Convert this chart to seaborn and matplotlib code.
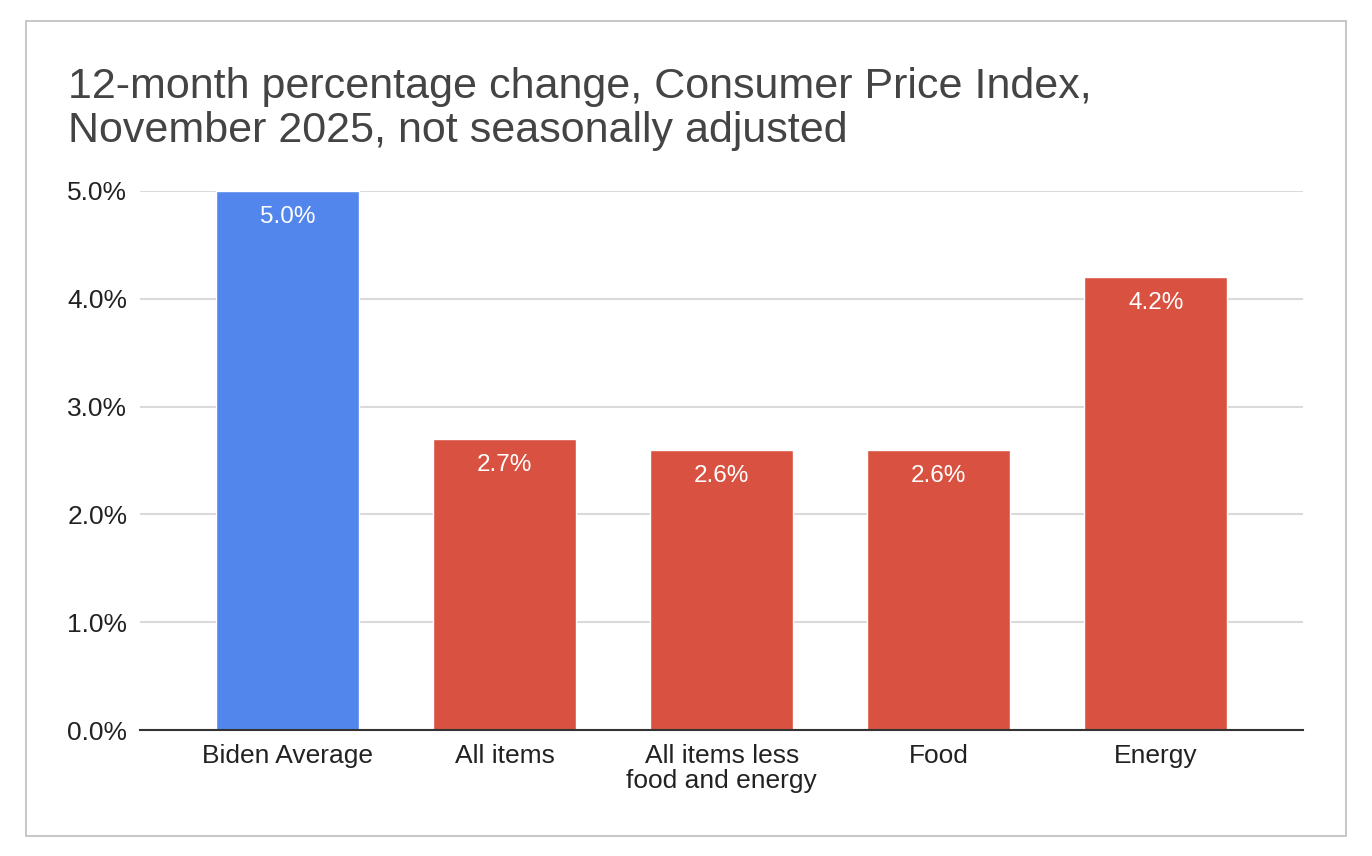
import matplotlib
matplotlib.use('Agg')
import matplotlib.pyplot as plt
import seaborn as sns
from matplotlib.patches import Rectangle
from matplotlib.ticker import FuncFormatter

categories = ['Biden Average', 'All items', 'All items less\nfood and energy', 'Food', 'Energy']
values = [5.0, 2.7, 2.6, 2.6, 4.2]
bar_colors = ['#5286EC', '#D95140', '#D95140', '#D95140', '#D95140']
y_ticks = [0.0, 1.0, 2.0, 3.0, 4.0, 5.0]

sns.set_theme(style='white')
plt.rcParams['font.family'] = ['Liberation Sans', 'DejaVu Sans']

fig = plt.figure(figsize=(13.72, 8.56), dpi=100)
ax = fig.add_axes([0.102, 0.147, 0.848, 0.630])

# outer frame like the sheets chart border
fig.patches.append(Rectangle((26 / 1372, 1 - 836 / 856), 1320 / 1372, 815 / 856,
                             transform=fig.transFigure, fill=False,
                             edgecolor='#bdbdbd', linewidth=1.2))

sns.barplot(x=categories, y=values, hue=categories, palette=bar_colors,
            legend=False, width=0.66, saturation=1, ax=ax, zorder=3)

for i, v in enumerate(values):
    ax.annotate(f'{v:.1f}%', (i, v), xytext=(0, -11), textcoords='offset points',
                ha='center', va='top', color='white', fontsize=17.5, zorder=4)

ax.set_ylim(0, 5.0)
ax.set_xlim(-0.68, len(categories) - 1 + 0.68)
ax.set_yticks(y_ticks)
ax.yaxis.set_major_formatter(FuncFormatter(lambda y, _: f'{y:.1f}%'))
ax.yaxis.grid(True, color='#dadada', linewidth=1.5, zorder=0)
ax.xaxis.grid(False)
for side in ['top', 'right', 'left']:
    ax.spines[side].set_visible(False)
ax.spines['bottom'].set_color('#333333')
ax.spines['bottom'].set_linewidth(1.5)
ax.spines['bottom'].set_zorder(5)
ax.tick_params(axis='both', length=0, labelsize=19, colors='#222222')
ax.tick_params(axis='x', pad=10)
ax.tick_params(axis='y', pad=9)
for lbl in ax.get_xticklabels():
    lbl.set_linespacing(1.05)
ax.set_xlabel('')
ax.set_ylabel('')

fig.text(68 / 1372, 1 - 67 / 856,
         '12-month percentage change, Consumer Price Index,\nNovember 2025, not seasonally adjusted',
         ha='left', va='top', fontsize=31, color='#444444', linespacing=1.12)

fig.savefig('out.png', dpi=100, facecolor='white')
